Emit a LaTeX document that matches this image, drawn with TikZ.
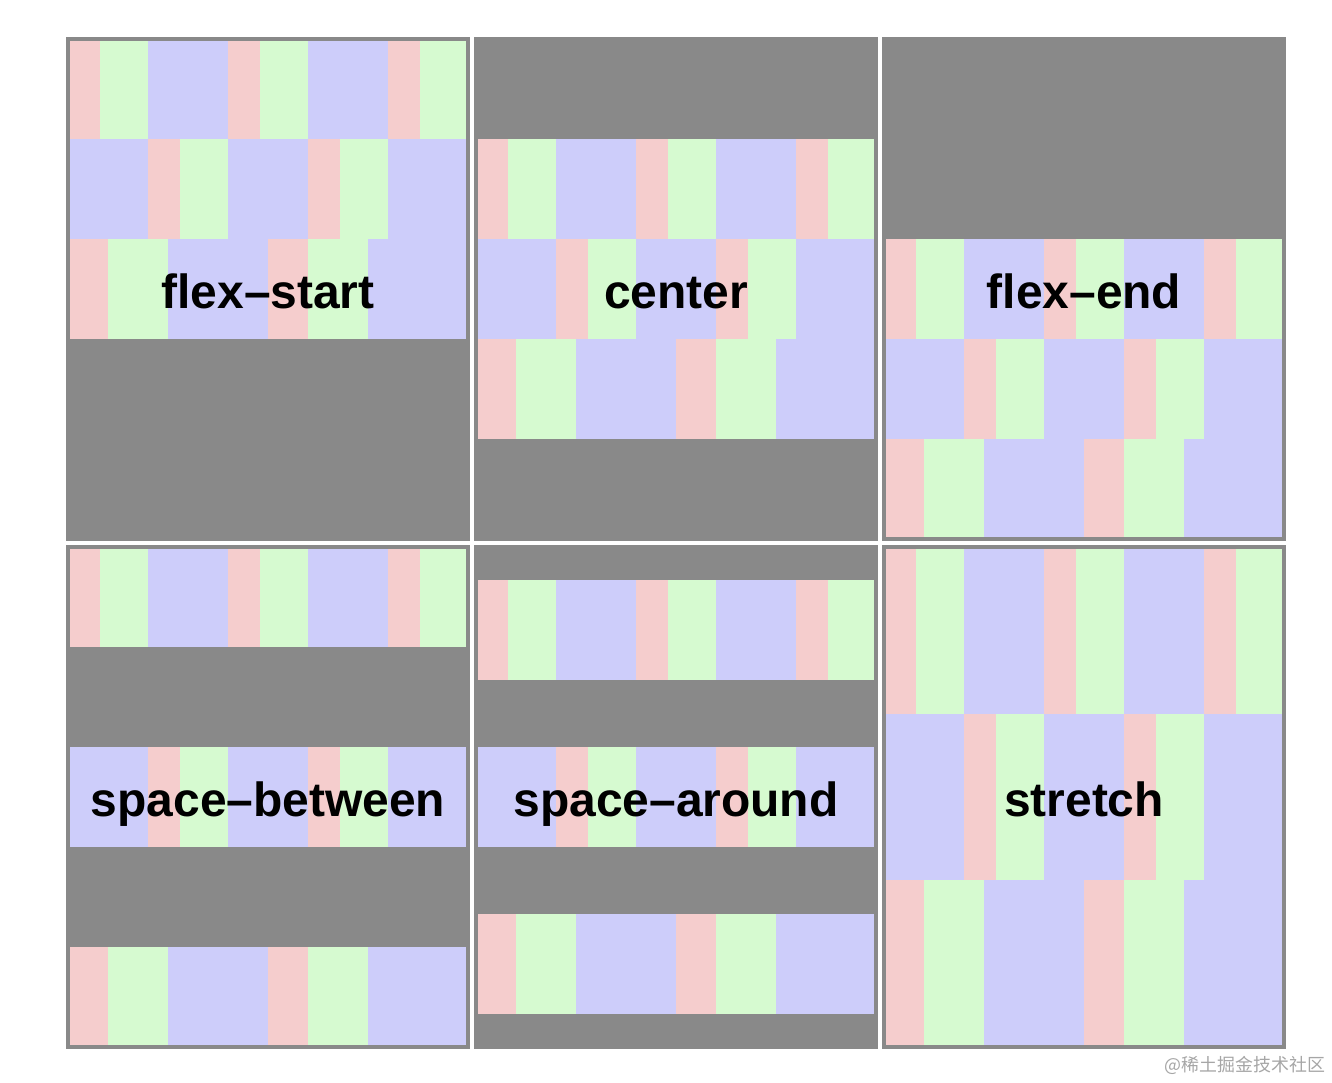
\documentclass[tikz,border=0pt]{standalone}
\usepackage{fontspec}
\setmainfont{Liberation Sans}
\newfontfamily\cjkfont{Noto Sans CJK SC}
\usepackage{tikz}

\definecolor{panelgray}{HTML}{898989}
\definecolor{itempink}{HTML}{F5CDCD}
\definecolor{itemgreen}{HTML}{D6FAD0}
\definecolor{itemblue}{HTML}{CDCDFA}
\definecolor{markgray}{HTML}{A6A6A6}

% one row of flex items: top, height, list of x0/x1/colour
\newcommand{\itemrow}[3]{%
  \foreach \xa/\xb/\col in #3 {\fill[\col] (\xa,#1) rectangle (\xb,#1+#2);}%
}
\def\rowone{0/32/itempink, 32/80/itemgreen, 80/160/itemblue, 160/192/itempink, 192/240/itemgreen, 240/320/itemblue, 320/352/itempink, 352/400/itemgreen}
\def\rowtwo{0/80/itemblue, 80/112/itempink, 112/160/itemgreen, 160/240/itemblue, 240/272/itempink, 272/320/itemgreen, 320/400/itemblue}
\def\rowthree{0/40/itempink, 40/100/itemgreen, 100/200/itemblue, 200/240/itempink, 240/300/itemgreen, 300/400/itemblue}

\begin{document}
\begin{tikzpicture}[x=0.02cm, y=-0.02cm,
    flexlabel/.style={font=\bfseries\fontsize{27.3}{30}\selectfont, anchor=base, inner sep=0pt},
    panelframe/.style={draw=panelgray, line width=0.08cm}]
    \fill[white] (0,0) rectangle (1332,1082);
    \useasboundingbox (0,0) rectangle (1332,1082);

    % Panel 1 (flex-start)
    \begin{scope}[shift={(68,39)}]
        \fill[panelgray] (-2,-2) rectangle (402,502);
        \itemrow{0}{100}{\rowone}
        \itemrow{100}{100}{\rowtwo}
        \itemrow{200}{100}{\rowthree}
        \draw[panelframe] (0,0) rectangle (400,500);
        \node[flexlabel] (lblstart) at (200,269) {flex–start};
    \end{scope}

    % Panel 2 (center)
    \begin{scope}[shift={(476,39)}]
        \fill[panelgray] (-2,-2) rectangle (402,502);
        \itemrow{100}{100}{\rowone}
        \itemrow{200}{100}{\rowtwo}
        \itemrow{300}{100}{\rowthree}
        \draw[panelframe] (0,0) rectangle (400,500);
        \node[flexlabel] (lblcenter) at (200,269) {center};
    \end{scope}

    % Panel 3 (flex-end)
    \begin{scope}[shift={(884,39)}]
        \fill[panelgray] (-2,-2) rectangle (402,502);
        \itemrow{200}{100}{\rowone}
        \itemrow{300}{100}{\rowtwo}
        \itemrow{400}{100}{\rowthree}
        \draw[panelframe] (0,0) rectangle (400,500);
        \node[flexlabel] (lblend) at (200,269) {flex–end};
    \end{scope}

    % Panel 4 (space-between)
    \begin{scope}[shift={(68,547)}]
        \fill[panelgray] (-2,-2) rectangle (402,502);
        \itemrow{0}{100}{\rowone}
        \itemrow{200}{100}{\rowtwo}
        \itemrow{400}{100}{\rowthree}
        \draw[panelframe] (0,0) rectangle (400,500);
        \node[flexlabel] (lblbetween) at (200,269) {space–between};
    \end{scope}

    % Panel 5 (space-around)
    \begin{scope}[shift={(476,547)}]
        \fill[panelgray] (-2,-2) rectangle (402,502);
        \itemrow{33.33}{100}{\rowone}
        \itemrow{200}{100}{\rowtwo}
        \itemrow{366.67}{100}{\rowthree}
        \draw[panelframe] (0,0) rectangle (400,500);
        \node[flexlabel] (lblaround) at (200,269) {space–around};
    \end{scope}

    % Panel 6 (stretch)
    \begin{scope}[shift={(884,547)}]
        \fill[panelgray] (-2,-2) rectangle (402,502);
        \itemrow{0}{166.67}{\rowone}
        \itemrow{166.67}{166.67}{\rowtwo}
        \itemrow{333.33}{166.67}{\rowthree}
        \draw[panelframe] (0,0) rectangle (400,500);
        \node[flexlabel] (lblstretch) at (200,269) {stretch};
    \end{scope}

    % Watermark
    \node[text=markgray, font=\cjkfont\fontsize{10.2}{12}\selectfont, inner sep=0pt] (watermark) at (1245,1065) {@稀土掘金技术社区};
\end{tikzpicture}
\end{document}
